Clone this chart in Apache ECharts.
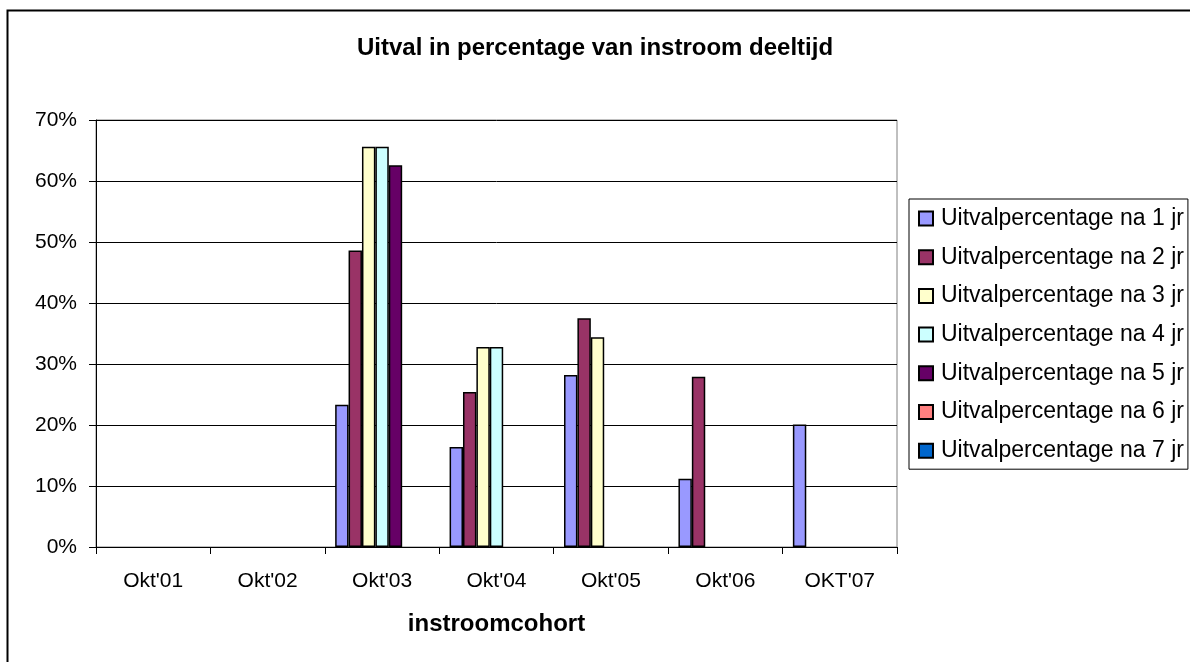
<!DOCTYPE html>
<html>
<head>
<meta charset="utf-8">
<title>Uitval in percentage van instroom deeltijd</title>
<script src="https://cdn.jsdelivr.net/npm/echarts@6/dist/echarts.min.js"></script>
<style>
  html, body { margin: 0; padding: 0; background: #fff; }
  #chart { width: 1190px; height: 662px; }
</style>
</head>
<body>
<div id="chart"></div>
<script>
// cohorten op de x-as
const cohorts = ["Okt'01", "Okt'02", "Okt'03", "Okt'04", "Okt'05", "Okt'06", "OKT'07"];

// uitvalpercentages (in %)
const na1jr = [null, null, 23.3, 16.4, 28.2, 11.2, 20.1];
const na2jr = [null, null, 48.6, 25.4, 37.5, 27.9, null];
const na3jr = [null, null, 65.6, 32.8, 34.4, null, null];
const na4jr = [null, null, 65.6, 32.8, null, null, null];
const na5jr = [null, null, 62.6, null, null, null, null];
const na6jr = [null, null, null, null, null, null, null];
const na7jr = [null, null, null, null, null, null, null];

const seriesNames = [
  'Uitvalpercentage na 1 jr',
  'Uitvalpercentage na 2 jr',
  'Uitvalpercentage na 3 jr',
  'Uitvalpercentage na 4 jr',
  'Uitvalpercentage na 5 jr',
  'Uitvalpercentage na 6 jr',
  'Uitvalpercentage na 7 jr',
];
const seriesData = [na1jr, na2jr, na3jr, na4jr, na5jr, na6jr, na7jr];
const colors = ['#9999FF', '#993366', '#FFFFCC', '#CCFFFF', '#660066', '#FF8080', '#0066CC'];

const font = "'Liberation Sans', Arial, sans-serif";

const chart = echarts.init(document.getElementById('chart'));

const option = {
  animation: false,
  backgroundColor: '#fff',
  title: {
    text: 'Uitval in percentage van instroom deeltijd',
    left: 'center',
    top: 31,
    textStyle: { fontFamily: font, fontSize: 24, fontWeight: 'bold', color: '#000' },
  },
  legend: {
    orient: 'vertical',
    left: 909,
    top: 199,
    padding: [8, 4, 7, 9],
    icon: 'rect',
    itemWidth: 14,
    itemHeight: 14,
    itemGap: 15.7,
    borderColor: '#000',
    borderWidth: 1,
    textStyle: { fontFamily: font, fontSize: 23, color: '#000', lineHeight: 22, padding: [0, 0, 0, 3] },
    data: seriesNames,
  },
  graphic: [
    {
      type: 'rect',
      shape: { x: 7.5, y: 10.5, width: 1300, height: 800 },
      style: { fill: 'none', stroke: '#000', lineWidth: 2 },
      silent: true,
    },
  ],
  grid: {
    left: 96,
    right: 293,
    top: 120,
    bottom: 115,
    show: true,
    borderColor: '#808080',
    borderWidth: 1,
    backgroundColor: '#fff',
  },
  xAxis: {
    type: 'category',
    data: cohorts,
    name: 'instroomcohort',
    nameLocation: 'middle',
    nameGap: 65,
    nameTextStyle: { fontFamily: font, fontSize: 24, fontWeight: 'bold', color: '#000' },
    axisLine: { lineStyle: { color: '#000', width: 1 } },
    axisTick: { show: true, length: 7, alignWithLabel: false, lineStyle: { color: '#000' } },
    axisLabel: { fontFamily: font, fontSize: 21, color: '#000', margin: 24, interval: 0 },
    splitLine: { show: false },
  },
  yAxis: {
    type: 'value',
    min: 0,
    max: 70,
    interval: 10,
    axisLine: { show: true, lineStyle: { color: '#000', width: 1 } },
    axisTick: { show: true, length: 7, lineStyle: { color: '#000' } },
    axisLabel: { fontFamily: font, fontSize: 21, color: '#000', margin: 19, formatter: '{value}%' },
    splitLine: { show: true, lineStyle: { color: '#000', width: 1 } },
  },
  series: seriesNames.map((name, i) => ({
    name: name,
    type: 'bar',
    data: seriesData[i],
    barGap: '0%',
    barCategoryGap: '18%',
    itemStyle: { color: colors[i], borderColor: '#000', borderWidth: 1.5 },
  })),
};

chart.setOption(option);

window.addEventListener('resize', () => chart.resize());
</script>
</body>
</html>
